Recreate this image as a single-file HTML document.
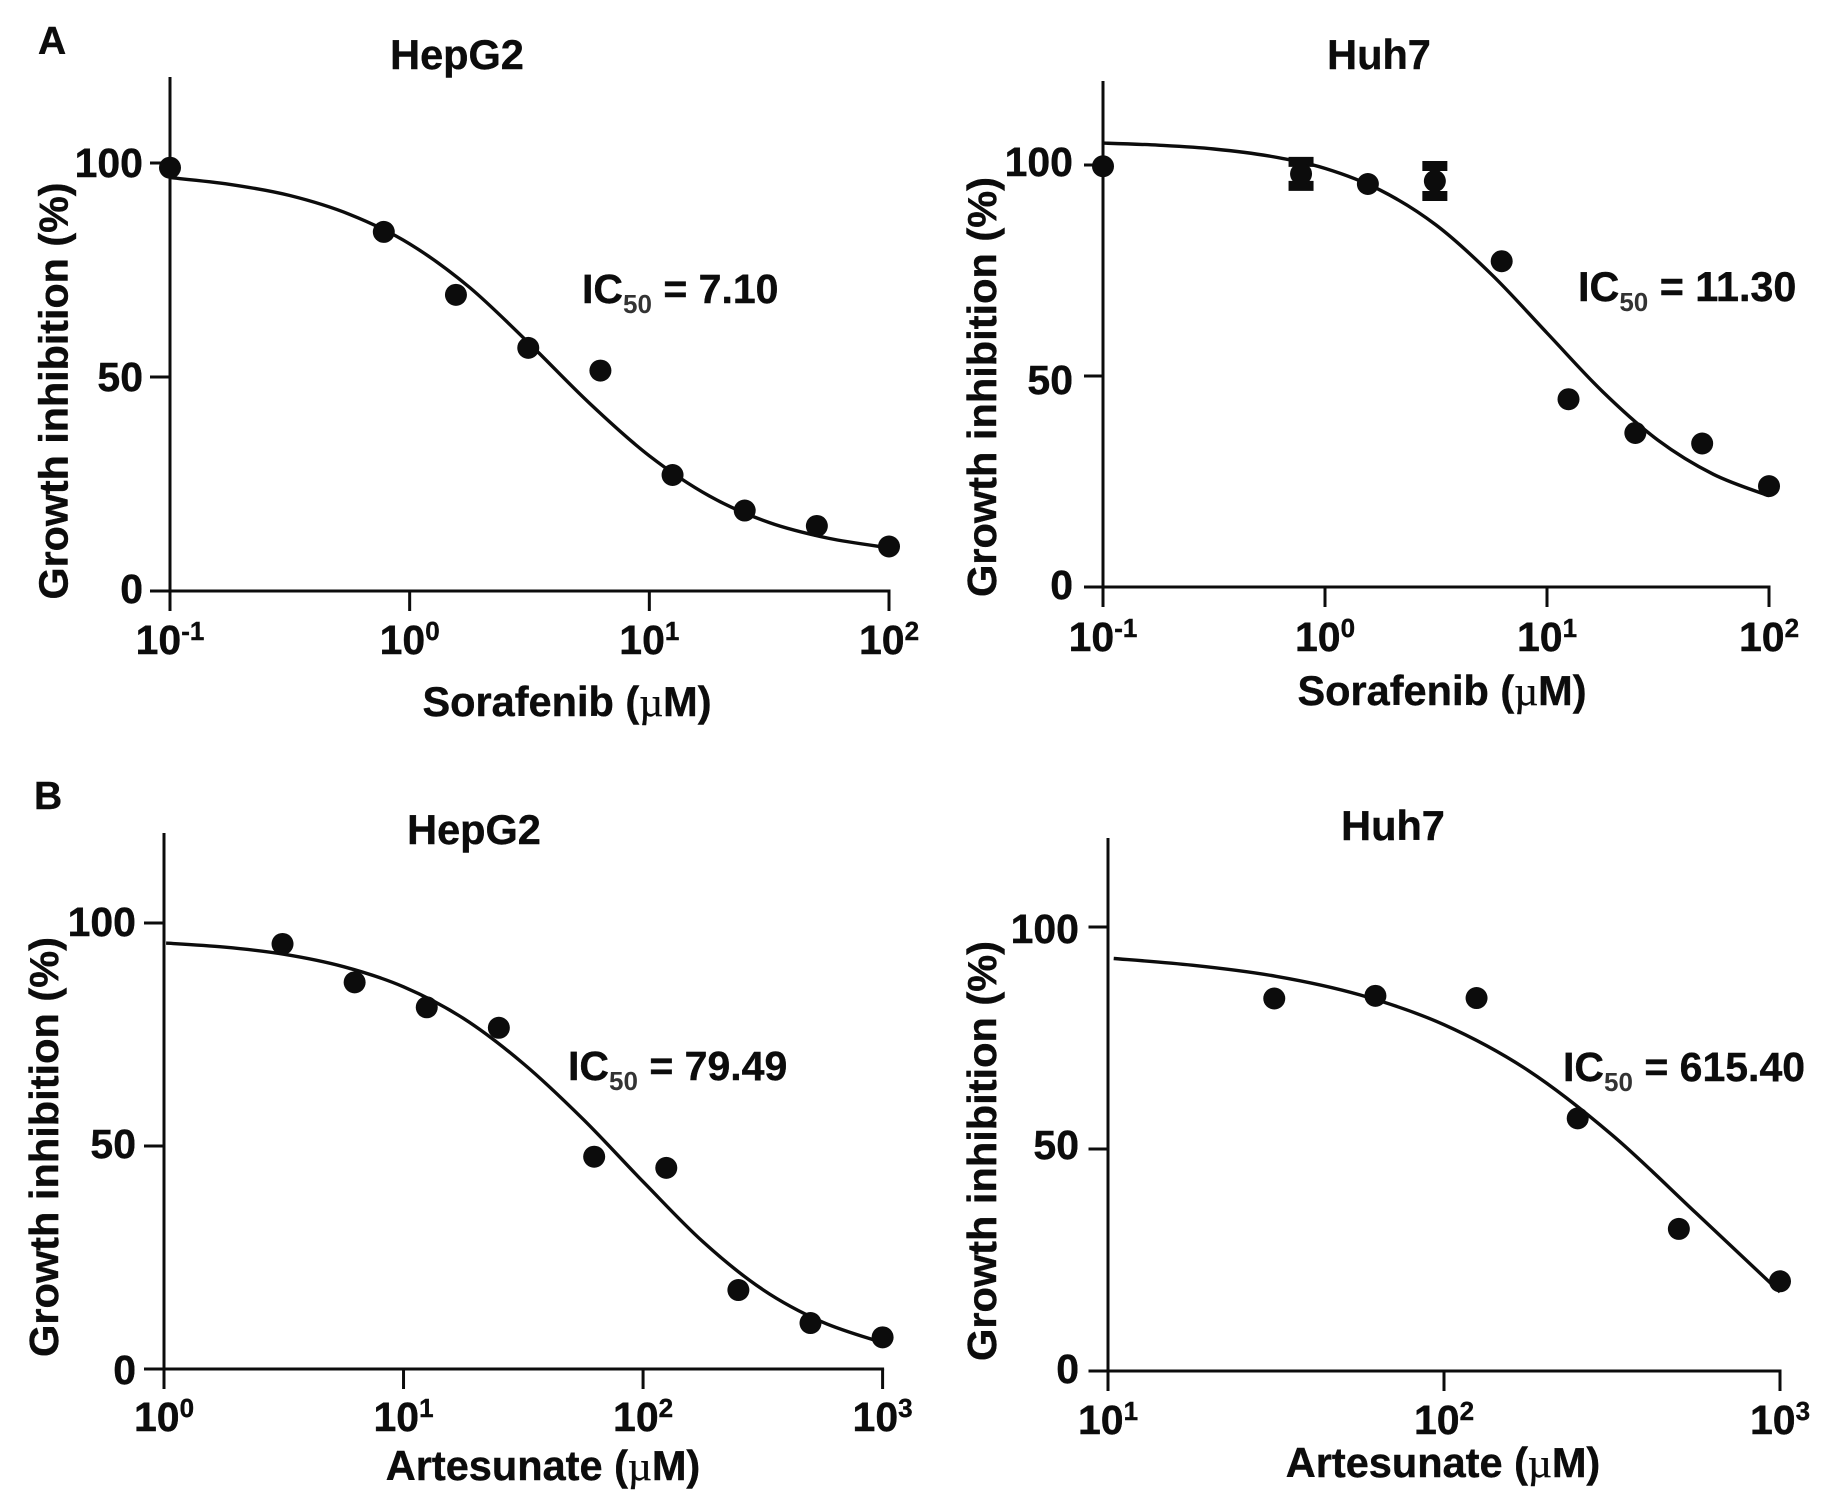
<!DOCTYPE html>
<html lang="en">
<head>
<meta charset="utf-8">
<title>Growth inhibition dose-response curves</title>
<style>
html,body{margin:0;padding:0;background:#fff;}
svg{display:block;}
text{font-family:"Liberation Sans",sans-serif;font-weight:bold;fill:#0c0c0c;stroke:#0c0c0c;stroke-width:.4px;}
.mu{font-family:"Liberation Serif",serif;font-weight:normal;}
.sub{fill:#333;stroke:none;}
</style>
</head>
<body>
<svg id="figure" xmlns="http://www.w3.org/2000/svg" width="1840" height="1502" viewBox="0 0 1840 1502">
  <rect width="1840" height="1502" fill="#fff"/>

  <text x="38" y="54" font-size="39">A</text>
  <text x="34" y="809" font-size="39">B</text>

  <g id="a1">
    <text x="457" y="69" font-size="41.5" text-anchor="middle">HepG2</text>
    <text transform="translate(67.5 391) rotate(-90)" font-size="40.5" text-anchor="middle" textLength="417" lengthAdjust="spacingAndGlyphs">Growth inhibition (%)</text>
    <text x="567" y="716" font-size="41.5" text-anchor="middle">Sorafenib (<tspan class="mu">µ</tspan>M)</text>
    <text x="582" y="303" font-size="41">IC<tspan class="sub" font-size="26" dy="10">50</tspan><tspan dy="-10"> = 7.10</tspan></text>
  </g>

  <g id="a2">
    <text x="1379" y="69" font-size="41.5" text-anchor="middle">Huh7</text>
    <text transform="translate(996 387) rotate(-90)" font-size="40.5" text-anchor="middle" textLength="420" lengthAdjust="spacingAndGlyphs">Growth inhibition (%)</text>
    <text x="1442" y="705" font-size="41.5" text-anchor="middle">Sorafenib (<tspan class="mu">µ</tspan>M)</text>
    <text x="1578" y="301" font-size="41.3">IC<tspan class="sub" font-size="26" dy="10">50</tspan><tspan dy="-10"> = 11.30</tspan></text>
  </g>

  <g id="b1">
    <text x="474" y="844" font-size="41.5" text-anchor="middle">HepG2</text>
    <text transform="translate(58 1147) rotate(-90)" font-size="40.5" text-anchor="middle" textLength="420" lengthAdjust="spacingAndGlyphs">Growth inhibition (%)</text>
    <text x="543" y="1480" font-size="41.5" text-anchor="middle">Artesunate (<tspan class="mu">µ</tspan>M)</text>
    <text x="568" y="1080" font-size="41">IC<tspan class="sub" font-size="26" dy="10">50</tspan><tspan dy="-10"> = 79.49</tspan></text>
  </g>

  <g id="b2">
    <text x="1393" y="840" font-size="41.5" text-anchor="middle">Huh7</text>
    <text transform="translate(996 1151) rotate(-90)" font-size="40.5" text-anchor="middle" textLength="420" lengthAdjust="spacingAndGlyphs">Growth inhibition (%)</text>
    <text x="1443" y="1477" font-size="41.5" text-anchor="middle">Artesunate (<tspan class="mu">µ</tspan>M)</text>
    <text x="1563" y="1081" font-size="41">IC<tspan class="sub" font-size="26" dy="10">50</tspan><tspan dy="-10"> = 615.40</tspan></text>
  </g>
</svg>

<script>
// Shared y-axis ticks
const yTickValues = [0, 50, 100];

// Panel A, HepG2, sorafenib
const a1XTickExponents = [-1, 0, 1, 2];
const a1DoseUM = [0.1, 0.78, 1.56, 3.125, 6.25, 12.5, 25, 50, 100];
const a1Inhibition = [98.9, 83.9, 69.2, 56.8, 51.5, 27.1, 18.8, 15.2, 10.4];
const a1CurveDose = [0.1, 0.178, 0.316, 0.562, 1, 1.78, 3.16, 5.62, 10, 17.8, 31.6, 56.2, 100];
const a1CurveInhibition = [96.6, 95.0, 92.4, 88.0, 81.1, 70.9, 57.8, 43.9, 31.6, 22.2, 16.0, 12.3, 10.1];

// Panel A, Huh7, sorafenib
const a2XTickExponents = [-1, 0, 1, 2];
const a2DoseUM = [0.1, 0.78, 1.56, 3.125, 6.25, 12.5, 25, 50, 100];
const a2Inhibition = [99.7, 97.9, 95.5, 96.2, 77.2, 44.5, 36.5, 34, 23.9];
const a2ErrorSD = [0, 2.85, 0, 3.55, 0, 0, 0, 0, 0];
const a2CurveDose = [0.1, 0.178, 0.316, 0.562, 1, 1.78, 3.16, 5.62, 10, 17.8, 31.6, 56.2, 100];
const a2CurveInhibition = [105.2, 104.7, 103.8, 102.1, 99.2, 94.0, 85.8, 74.1, 60.2, 46.3, 34.8, 26.7, 21.6];

// Panel B, HepG2, artesunate
const b1XTickExponents = [0, 1, 2, 3];
const b1DoseUM = [3.125, 6.25, 12.5, 25, 62.5, 125, 250, 500, 1000];
const b1Inhibition = [95.3, 86.7, 81.1, 76.5, 47.6, 45.1, 17.7, 10.3, 7.1];
const b1CurveDose = [1.02, 1.78, 3.16, 5.62, 10, 17.8, 31.6, 56.2, 100, 178, 316, 562, 1000];
const b1CurveInhibition = [95.5, 94.6, 93.0, 90.2, 85.7, 78.6, 68.5, 56.0, 42.0, 28.5, 17.8, 10.5, 5.9];

// Panel B, Huh7, artesunate
const b2XTickExponents = [1, 2, 3];
const b2DoseUM = [31.25, 62.5, 125, 250, 500, 1000];
const b2Inhibition = [83.9, 84.5, 84, 56.9, 32, 20.2];
const b2CurveDose = [10.4, 17.8, 31.6, 56.2, 100, 178, 316, 562, 1000];
const b2CurveInhibition = [92.9, 91.4, 88.9, 84.7, 78.0, 67.7, 53.2, 35.6, 17.8];

const SVG_NS = 'http://www.w3.org/2000/svg';

function make(tag, parent, props) {
  const el = document.createElementNS(SVG_NS, tag);
  for (const k in props) el.setAttribute(k, props[k]);
  parent.appendChild(el);
  return el;
}

function smoothPath(pts) {
  let d = 'M' + pts[0][0].toFixed(1) + ' ' + pts[0][1].toFixed(1);
  for (let i = 0; i < pts.length - 1; i++) {
    const p0 = pts[i - 1] || pts[i];
    const p1 = pts[i];
    const p2 = pts[i + 1];
    const p3 = pts[i + 2] || p2;
    const c1x = p1[0] + (p2[0] - p0[0]) / 6;
    const c1y = p1[1] + (p2[1] - p0[1]) / 6;
    const c2x = p2[0] - (p3[0] - p1[0]) / 6;
    const c2y = p2[1] - (p3[1] - p1[1]) / 6;
    d += 'C' + c1x.toFixed(1) + ' ' + c1y.toFixed(1) + ' ' + c2x.toFixed(1) + ' ' + c2y.toFixed(1) + ' ' + p2[0].toFixed(1) + ' ' + p2[1].toFixed(1);
  }
  return d;
}

function drawPanel(cfg) {
  const g = document.getElementById(cfg.id);
  const exps = cfg.xExps;
  const xMin = exps[0];
  const xMax = exps[exps.length - 1];
  const xOf = function (dose) {
    return cfg.x0 + (Math.log10(dose) - xMin) / (xMax - xMin) * (cfg.x1 - cfg.x0);
  };
  const xOfExp = function (e) {
    return cfg.x0 + (e - xMin) / (xMax - xMin) * (cfg.x1 - cfg.x0);
  };
  const yOf = function (v) {
    return cfg.y0 + (cfg.y100 - cfg.y0) * v / 100;
  };

  const yAxis = make('line', g, {x1: cfg.x0, x2: cfg.x0, y1: cfg.top, y2: cfg.y0, stroke: '#0c0c0c', 'stroke-width': 3});
  
  

  const xAxis = make('line', g, {x1: cfg.left, x2: cfg.x1 + 1.5, y1: cfg.y0, y2: cfg.y0, stroke: '#0c0c0c', 'stroke-width': 3});
  
  

  yTickValues.forEach(function (v, i) {
    const tick = make('line', g, {x1: cfg.left, x2: cfg.x0, y1: yOf(v), y2: yOf(v), stroke: '#0c0c0c', 'stroke-width': 3});
    
    
    const label = make('text', g, {x: cfg.yLabelX, y: yOf(v) + cfg.yLabelDy[i], 'font-size': 41, 'text-anchor': 'end'});
    label.textContent = String(v);
    
    
  });

  exps.forEach(function (e) {
    const tx = xOfExp(e);
    const tick = make('line', g, {x1: tx, x2: tx, y1: cfg.y0, y2: cfg.y0 + 20, stroke: '#0c0c0c', 'stroke-width': 3});
    
    
    const label = make('text', g, {x: tx, y: cfg.xLabelY, 'font-size': 41, 'text-anchor': 'middle'});
    
    
    label.appendChild(document.createTextNode('10'));
    const sup = make('tspan', label, {'font-size': 26, dy: -14});
    sup.textContent = String(e);
  });

  const pts = cfg.curveDose.map(function (d, i) {
    return [xOf(d), yOf(cfg.curveValues[i])];
  });
  const curve = make('path', g, {d: smoothPath(pts), fill: 'none', stroke: '#0c0c0c', 'stroke-width': 3.4, 'stroke-linejoin': 'round'});
  
  

  cfg.dose.forEach(function (d, i) {
    const cx = xOf(d);
    const v = cfg.values[i];
    const err = cfg.errors ? cfg.errors[i] : 0;
    if (err > 0) {
      const bar = make('path', g, {
        d: 'M' + cx + ' ' + yOf(v + err) + 'V' + yOf(v - err) +
           'M' + (cx - 12.5) + ' ' + yOf(v + err) + 'H' + (cx + 12.5) +
           'M' + (cx - 12.5) + ' ' + yOf(v - err) + 'H' + (cx + 12.5),
        fill: 'none', stroke: '#0c0c0c', 'stroke-width': 10
      });
      
      
    }
    const dot = make('circle', g, {cx: cx, cy: yOf(v), r: 11, fill: '#0c0c0c'});
    
    
  });
}

drawPanel({
  id: 'a1', name: 'hepg2-sorafenib',
  x0: 170, x1: 889, y0: 591, y100: 163, top: 77, left: 150,
  yLabelX: 143, yLabelDy: [12, 14, 14], xLabelY: 654,
  xExps: a1XTickExponents, dose: a1DoseUM, values: a1Inhibition,
  curveDose: a1CurveDose, curveValues: a1CurveInhibition
});
drawPanel({
  id: 'a2', name: 'huh7-sorafenib',
  x0: 1103, x1: 1769, y0: 587, y100: 165, top: 81, left: 1084,
  yLabelX: 1073, yLabelDy: [12, 18, 11], xLabelY: 651,
  xExps: a2XTickExponents, dose: a2DoseUM, values: a2Inhibition, errors: a2ErrorSD,
  curveDose: a2CurveDose, curveValues: a2CurveInhibition
});
drawPanel({
  id: 'b1', name: 'hepg2-artesunate',
  x0: 164, x1: 882.6, y0: 1369, y100: 923, top: 833, left: 144,
  yLabelX: 136, yLabelDy: [15, 12, 13], xLabelY: 1431,
  xExps: b1XTickExponents, dose: b1DoseUM, values: b1Inhibition,
  curveDose: b1CurveDose, curveValues: b1CurveInhibition
});
drawPanel({
  id: 'b2', name: 'huh7-artesunate',
  x0: 1108, x1: 1780, y0: 1371, y100: 927, top: 838, left: 1088.5,
  yLabelX: 1079, yLabelDy: [12, 10, 16], xLabelY: 1434,
  xExps: b2XTickExponents, dose: b2DoseUM, values: b2Inhibition,
  curveDose: b2CurveDose, curveValues: b2CurveInhibition
});
</script>
</body>
</html>
